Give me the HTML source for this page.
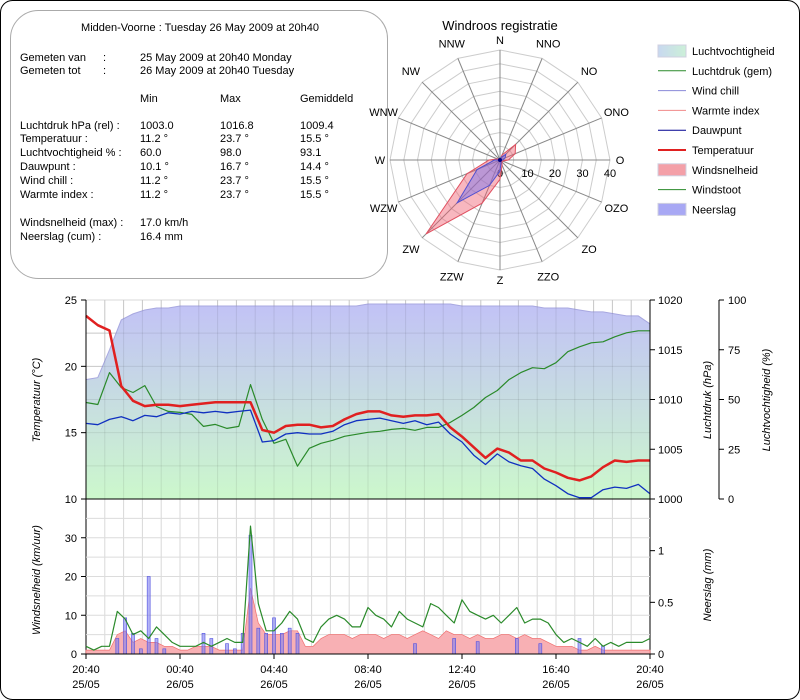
<!DOCTYPE html>
<html><head><meta charset="utf-8"><style>
body{margin:0;background:#fff;font-family:"Liberation Sans",sans-serif;}
#wrap{position:relative;width:800px;height:700px;overflow:hidden;}
svg text{font-family:"Liberation Sans",sans-serif;}
</style></head><body>
<div id="wrap">
<svg id="s" width="800" height="700" xmlns="http://www.w3.org/2000/svg">
<defs>
<linearGradient id="hg" x1="0" y1="0" x2="0" y2="1"><stop offset="0" stop-color="#c2c2f6"/><stop offset="1" stop-color="#ccf8cc"/></linearGradient>
<linearGradient id="lg" x1="0" y1="0" x2="1" y2="0"><stop offset="0" stop-color="#c8d8f0"/><stop offset="1" stop-color="#ccf0d8"/></linearGradient>
</defs>
<rect x="0.5" y="0.5" width="799" height="699" rx="12" fill="#fff" stroke="#000"/>
<rect x="10.5" y="10.5" width="377" height="268" rx="28" fill="#fff" stroke="#aaa"/>
<g font-size="11" fill="#000">
<text x="200" y="31" text-anchor="middle">Midden-Voorne : Tuesday 26 May 2009 at 20h40</text>
<text x="20" y="61">Gemeten van</text><text x="103" y="61">:</text><text x="140" y="61">25 May 2009 at 20h40 Monday</text>
<text x="20" y="74">Gemeten tot</text><text x="103" y="74">:</text><text x="140" y="74">26 May 2009 at 20h40 Tuesday</text>
<text x="140" y="102">Min</text><text x="220" y="102">Max</text><text x="300" y="102">Gemiddeld</text>
<text x="20" y="129">Luchtdruk hPa (rel) :</text><text x="140" y="129">1003.0</text><text x="220" y="129">1016.8</text><text x="300" y="129">1009.4</text>
<text x="20" y="142">Temperatuur :</text><text x="140" y="142">11.2 °</text><text x="220" y="142">23.7 °</text><text x="300" y="142">15.5 °</text>
<text x="20" y="156">Luchtvochtigheid % :</text><text x="140" y="156">60.0</text><text x="220" y="156">98.0</text><text x="300" y="156">93.1</text>
<text x="20" y="170">Dauwpunt :</text><text x="140" y="170">10.1 °</text><text x="220" y="170">16.7 °</text><text x="300" y="170">14.4 °</text>
<text x="20" y="184">Wind chill :</text><text x="140" y="184">11.2 °</text><text x="220" y="184">23.7 °</text><text x="300" y="184">15.5 °</text>
<text x="20" y="198">Warmte index :</text><text x="140" y="198">11.2 °</text><text x="220" y="198">23.7 °</text><text x="300" y="198">15.5 °</text>
<text x="20" y="226">Windsnelheid (max) :</text><text x="140" y="226">17.0 km/h</text>
<text x="20" y="240">Neerslag (cum) :</text><text x="140" y="240">16.4 mm</text>
</g>
<text x="500" y="30" font-size="13" text-anchor="middle">Windroos registratie</text>
<g id="rose"></g>
<g id="legend"></g>
<g id="topchart"></g>
<g id="botchart"></g>
</svg></div>
<script>
// ---- data ----
const dirs=["N","NNO","NO","ONO","O","OZO","ZO","ZZO","Z","ZZW","ZW","WZW","W","WNW","NW","NNW"];
const roseSpeed=[0,2,8,6,3,1,1,2,7,17,38,13,4,1,0,0];
const roseGust=[0,1,3,2,1,0,0,1,4,10,22,9,2,0,0,0];
const roseTicks=[0,10,20,30,40];
const temp=[23.8,23.1,22.7,18.5,17.4,17.0,17.1,17.1,17.0,17.1,17.2,17.3,17.3,17.3,17.3,15.2,15.0,15.5,15.6,15.6,15.4,15.5,16.0,16.4,16.6,16.6,16.3,16.2,16.3,16.3,16.4,15.4,14.7,13.9,13.1,13.8,13.5,12.9,12.9,12.3,12.0,11.6,11.4,11.7,12.4,12.9,12.8,12.9,12.9];
const dew=[15.7,15.6,16.0,16.2,15.9,16.3,16.2,16.5,16.4,16.6,16.5,16.6,16.5,16.6,16.7,14.3,14.4,14.9,15.0,14.9,14.9,15.1,15.6,15.9,16.0,16.1,15.9,15.7,15.9,15.6,15.8,14.9,14.3,13.3,12.6,13.4,12.8,12.5,12.3,11.5,11.0,10.4,10.1,10.1,10.7,10.9,10.8,11.1,10.4];
const pres=[1009.7,1009.5,1012.7,1011.2,1010.7,1011.4,1009.3,1008.8,1008.7,1008.5,1007.3,1007.5,1007.1,1007.3,1011.5,1008.0,1005.6,1006.0,1003.3,1005.1,1005.6,1005.9,1006.3,1006.5,1006.7,1006.8,1007.0,1007.1,1006.9,1007.2,1007.2,1007.7,1008.4,1009.2,1010.2,1010.9,1012.0,1012.7,1013.2,1013.1,1013.7,1014.8,1015.3,1015.7,1015.8,1016.3,1016.7,1016.9,1016.9];
const hum=[60,61,75,90,93,95,96,96,97,97,97,97,97,97,97,97,97,97,97,97,97,97,97,97,98,98,98,98,98,98,98,98,97,97,97,97,97,97,97,96,96,96,95,94,94,93,92,92,88];
const speed=[1,1,1,1,5,6,3,4,3,3,2,2,1,1,2,2,2,1,1,1,1,17,8,5,5,5,6,6,2,2,4,5,5,5,4,5,5,5,4,5,5,4,5,6,5,4,6,5,5,4,5,4,4,5,5,4,5,4,4,3,2,2,2,1,1,2,1,1,1,1,1,1,1];
const gust=[2,1,2,2,11,9,5,6,4,7,5,3,2,2,2,3,2,3,4,3,3,33,13,6,6,8,11,9,4,3,7,9,10,9,7,7,12,10,9,7,11,9,8,7,13,12,10,8,14,11,10,9,10,8,10,12,8,9,9,8,5,3,4,3,2,4,2,3,2,3,3,3,4];
const rain=[0,0,0,0,0.15,0.35,0.2,0.05,0.75,0.15,0.05,0,0,0,0,0.2,0.15,0,0.1,0.05,0.2,1.15,0.25,0.2,0.35,0.2,0.25,0.2,0,0,0,0,0,0,0,0,0,0,0,0,0,0,0.1,0,0,0,0,0.15,0,0,0.12,0,0,0,0,0.15,0,0,0.1,0,0,0,0,0.15,0,0,0.08,0,0,0,0,0,0];
const tempTicks=[10,15,20,25];
const presTicks=[1000,1005,1010,1015,1020];
const humTicks=[0,25,50,75,100];
const windTicks=[0,10,20,30];
const rainTicks=[0.5,1];
const timeLabels=["20:40","00:40","04:40","08:40","12:40","16:40","20:40"];
const dateLabels=["25/05","26/05","26/05","26/05","26/05","26/05","26/05"];
// ---- helpers ----
const NS="http://www.w3.org/2000/svg";
function mk(p,t,a,txt){const e=document.createElementNS(NS,t);for(const k in a)e.setAttribute(k,a[k]);if(txt!=null)e.textContent=txt;p.appendChild(e);return e;}
const X0=86,X1=650,T0=300,T1=499,B1=654;
const xHalf=i=>X0+(X1-X0)*i/(temp.length-1);
const xW=i=>X0+(X1-X0)*i/(gust.length-1);
const yT=v=>T1-(v-10)/15*(T1-T0);
const yP=v=>T1-(v-1000)/20*(T1-T0);
const yH=v=>T1-v/100*(T1-T0);
const yW=v=>B1-v/40*(B1-T1);
const yR=v=>B1-v/1.5*(B1-T1);
// ---- windrose ----
const rose=document.getElementById('rose');
const cx=500,cy=160,R=110,rs=v=>v/40*R;
const ang=i=>i*Math.PI/8;
for(let r=5;r<=40;r+=5){let pts=dirs.map((d,i)=>(cx+rs(r)*Math.sin(ang(i))).toFixed(1)+","+(cy-rs(r)*Math.cos(ang(i))).toFixed(1)).join(" ");
 const ring=mk(rose,'polygon',{points:pts,fill:'none',stroke:'#ccc'});
 
 }
dirs.forEach((d,i)=>{const sx=Math.sin(ang(i)),sy=-Math.cos(ang(i));
 const sp=mk(rose,'line',{x1:cx,y1:cy,x2:cx+R*sx,y2:cy+R*sy,stroke:'#888'});
 
 
 const lr=R+(i%4==0?10:16);
 const t=mk(rose,'text',{x:cx+lr*sx,y:cy+lr*sy+4,'font-size':11,'text-anchor':'middle'},d);
 
 });
roseTicks.forEach(v=>{const t=mk(rose,'text',{x:cx+rs(v),y:cy+17,'font-size':11,'text-anchor':'middle'},String(v));
 
 });
function rosePoly(arr,fill,stroke,name){const pts=arr.map((v,i)=>(cx+rs(v)*Math.sin(ang(i))).toFixed(1)+","+(cy-rs(v)*Math.cos(ang(i))).toFixed(1)).join(" ");
 const p=mk(rose,'polygon',{points:pts,fill:fill,stroke:stroke,'fill-opacity':0.45});
 
 }
rosePoly(roseSpeed,'#f06070','#e05060','rose-speed-area');
rosePoly(roseGust,'#7070f0','#5050d0','rose-gust-area');
mk(rose,'circle',{cx:cx,cy:cy,r:2,fill:'#000080'});
// ---- legend ----
const leg=document.getElementById('legend');
const items=[["Luchtvochtigheid","box","url(#lg)"],["Luchtdruk (gem)","line","#2a8a2a"],["Wind chill","line","#8a8ad8"],["Warmte index","line","#f08a8a"],["Dauwpunt","line","#000090"],["Temperatuur","line","#e02020"],["Windsnelheid","box","#f4a0a8"],["Windstoot","line","#2a8a2a"],["Neerslag","box","#a8a8f4"]];
items.forEach((it,i)=>{const y=51+i*19.8;
 const g=mk(leg,'g',{});
 
 
 if(it[1]=='box')mk(g,'rect',{x:658,y:y-6,width:28,height:12,fill:it[2],stroke:'#d0d0e0'});
 else mk(g,'line',{x1:658,y1:y,x2:686,y2:y,stroke:it[2],'stroke-width':it[0]=="Temperatuur"?2:1});
 mk(g,'text',{x:692,y:y+4,'font-size':11},it[0]);});
// ---- top chart ----
const topG=document.getElementById('topchart');
for(let k=0;k<=30;k++){const x=X0+(X1-X0)*k/30;mk(topG,'line',{x1:x,y1:T0,x2:x,y2:B1,stroke:'#d8d8d8'});}
for(let v=10;v<=25;v+=2.5){mk(topG,'line',{x1:X0,y1:yT(v),x2:X1,y2:yT(v),stroke:'#d8d8d8'});}
let hp="M"+X0+","+T1+" "+hum.map((v,i)=>"L"+xHalf(i).toFixed(1)+","+yH(v).toFixed(1)).join(" ")+" L"+X1+","+T1+"Z";
const ha=mk(topG,'path',{d:hp,fill:'url(#hg)',stroke:'#a8a8e0'});


for(let k=0;k<=30;k++){const x=X0+(X1-X0)*k/30;mk(topG,'line',{x1:x,y1:T0,x2:x,y2:T1,stroke:'#000','stroke-opacity':0.08});}
for(let v=12.5;v<25;v+=2.5){mk(topG,'line',{x1:X0,y1:yT(v),x2:X1,y2:yT(v),stroke:'#000','stroke-opacity':0.08});}
function drawLine(g,arr,xf,yf,col,w,name){const d=arr.map((v,i)=>(i?"L":"M")+xf(i).toFixed(1)+","+yf(v).toFixed(1)).join(" ");
 const p=mk(g,'path',{d:d,fill:'none',stroke:col,'stroke-width':w,'stroke-linejoin':'round'});
 
 }
drawLine(topG,pres,xHalf,yP,'#2a8a2a',1.2,'pressure-line');
drawLine(topG,dew,xHalf,yT,'#1030c0',1.3,'dewpoint-line');
drawLine(topG,temp,xHalf,yT,'#e02020',2.5,'temperature-line');
mk(topG,'line',{x1:X0,y1:T0,x2:X0,y2:B1,stroke:'#000'});
mk(topG,'line',{x1:X0,y1:T1,x2:X1,y2:T1,stroke:'#000'});
mk(topG,'line',{x1:X1,y1:T0,x2:X1,y2:B1,stroke:'#000'});
mk(topG,'line',{x1:719,y1:T0,x2:719,y2:T1,stroke:'#000'});
tempTicks.forEach(v=>{mk(topG,'line',{x1:X0-5,y1:yT(v),x2:X0,y2:yT(v),stroke:'#000'});
 const t=mk(topG,'text',{x:X0-9,y:yT(v)+4,'font-size':11,'text-anchor':'end'},String(v));
 
 });
presTicks.forEach(v=>{mk(topG,'line',{x1:X1,y1:yP(v),x2:X1+5,y2:yP(v),stroke:'#000'});
 const t=mk(topG,'text',{x:X1+8,y:yP(v)+4,'font-size':11},String(v));
 
 });
humTicks.forEach(v=>{mk(topG,'line',{x1:719,y1:yH(v),x2:724,y2:yH(v),stroke:'#000'});
 const t=mk(topG,'text',{x:728,y:yH(v)+4,'font-size':11},String(v));
 
 });
function vlabel(x,y,s,name){const t=mk(document.getElementById('s'),'text',{x:x,y:y,'font-size':11,'font-style':'italic','text-anchor':'middle',transform:'rotate(-90 '+x+' '+y+')'},s);
 
 }
vlabel(40,400,"Temperatuur (°C)",'y-axis-title-temperature');
vlabel(711,400,"Luchtdruk (hPa)",'y-axis-title-pressure');
vlabel(770,400,"Luchtvochtigheid (%)",'y-axis-title-humidity');
vlabel(40,580,"Windsnelheid (km/uur)",'y-axis-title-wind');
vlabel(711,585,"Neerslag (mm)",'y-axis-title-rain');
// ---- bottom chart ----
const botG=document.getElementById('botchart');
for(let v=5;v<40;v+=5){mk(botG,'line',{x1:X0,y1:yW(v),x2:X1,y2:yW(v),stroke:'#dcdcdc'});}
let sp="M"+X0+","+B1+" "+speed.map((v,i)=>"L"+xW(i).toFixed(1)+","+yW(v).toFixed(1)).join(" ")+" L"+X1+","+B1+"Z";
const sa=mk(botG,'path',{d:sp,fill:'#f8b0b4',stroke:'#f07070','stroke-width':0.7});


rain.forEach((v,i)=>{if(v<=0)return;const b=mk(botG,'rect',{x:xW(i)-1.5,y:yR(v),width:3,height:B1-yR(v),fill:'#8080f0','fill-opacity':0.6,stroke:'#5050e0','stroke-width':0.6});
 
 });
drawLine(botG,gust,xW,yW,'#2a8a2a',1.2,'windgust-line');
mk(botG,'line',{x1:X0,y1:B1,x2:X1,y2:B1,stroke:'#000'});
windTicks.forEach(v=>{mk(botG,'line',{x1:X0-5,y1:yW(v),x2:X0,y2:yW(v),stroke:'#000'});
 const t=mk(botG,'text',{x:X0-9,y:yW(v)+4,'font-size':11,'text-anchor':'end'},String(v));
 
 });
[0].concat(rainTicks).forEach(v=>{mk(botG,'line',{x1:X1,y1:yR(v),x2:X1+5,y2:yR(v),stroke:'#000'});
 const t=mk(botG,'text',{x:X1+8,y:yR(v)+4,'font-size':11},String(v));
 
 });
timeLabels.forEach((s,i)=>{const x=X0+(X1-X0)*i/6;mk(botG,'line',{x1:x,y1:B1,x2:x,y2:B1+5,stroke:'#000'});
 const t=mk(botG,'text',{x:x,y:673,'font-size':11,'text-anchor':'middle'},s);
 
 
 const d=mk(botG,'text',{x:x,y:688,'font-size':11,'text-anchor':'middle'},dateLabels[i]);
 
 });
</script></body></html>
